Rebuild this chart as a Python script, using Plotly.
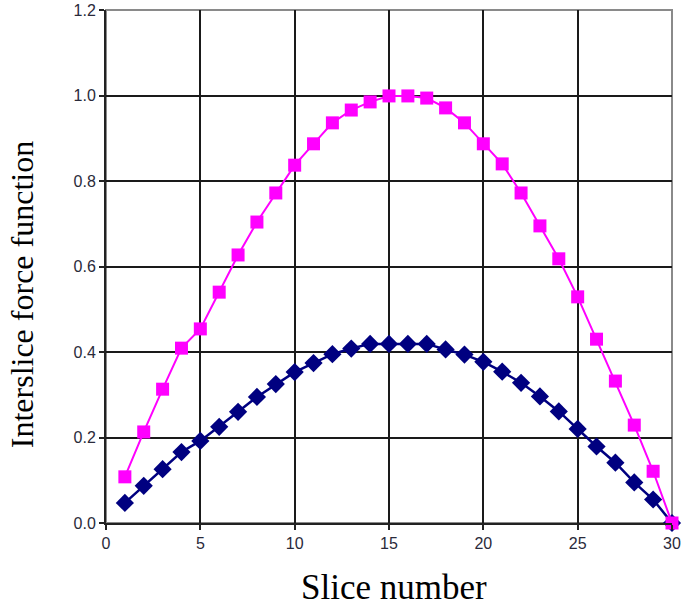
import plotly.graph_objects as go

slices = list(range(1, 31))
pink_values = [0.108, 0.213, 0.313, 0.409, 0.454, 0.540, 0.627, 0.704, 0.772, 0.837,
               0.887, 0.936, 0.966, 0.985, 0.999, 0.999, 0.994, 0.971, 0.936, 0.887,
               0.840, 0.772, 0.695, 0.618, 0.529, 0.430, 0.332, 0.229, 0.121, 0.0]
navy_values = [0.047, 0.087, 0.126, 0.166, 0.192, 0.225, 0.260, 0.295, 0.325, 0.353,
               0.374, 0.395, 0.408, 0.419, 0.419, 0.419, 0.419, 0.406, 0.394, 0.377,
               0.354, 0.328, 0.296, 0.261, 0.220, 0.179, 0.141, 0.095, 0.055, 0.0]
x_ticks = [0, 5, 10, 15, 20, 25, 30]
y_ticks = [0.0, 0.2, 0.4, 0.6, 0.8, 1.0, 1.2]
y_tick_labels = ["0.0", "0.2", "0.4", "0.6", "0.8", "1.0", "1.2"]
x_title = "Slice number"
y_title = "Interslice force function"

fig = go.Figure()
fig.add_trace(go.Scatter(
    x=slices, y=navy_values, mode="lines+markers",
    line=dict(color="#000080", width=2.5),
    marker=dict(symbol="diamond", size=14, color="#000080"),
    showlegend=False, cliponaxis=False,
))
fig.add_trace(go.Scatter(
    x=slices, y=pink_values, mode="lines+markers",
    line=dict(color="#FF00FF", width=2),
    marker=dict(symbol="square", size=13, color="#FF00FF"),
    showlegend=False, cliponaxis=False,
))

# light gray frame (top/right)
fig.add_shape(type="rect", xref="paper", yref="paper", x0=0, y0=0, x1=1, y1=1,
              line=dict(color="#8a8a8a", width=2), layer="below")

serif = "Liberation Serif, Times New Roman, serif"
fig.add_annotation(text=x_title, xref="paper", yref="paper", x=0.5, y=0,
                   xanchor="center", yanchor="middle", xshift=5, yshift=-64,
                   showarrow=False, font=dict(family=serif, size=35, color="#000"))
fig.add_annotation(text=y_title, xref="paper", yref="paper", x=0, y=0.444,
                   xanchor="center", yanchor="middle", xshift=-84, textangle=-90,
                   showarrow=False, font=dict(family=serif, size=32, color="#000"))

fig.update_layout(
    width=685, height=607,
    margin=dict(l=106, r=13, t=10, b=84, autoexpand=False),
    paper_bgcolor="white", plot_bgcolor="white",
    font=dict(family="Liberation Sans, Arial", size=16, color="#2a2a3a"),
)
fig.update_xaxes(
    range=[0, 30], tickvals=x_ticks, ticks="outside", ticklen=5, tickwidth=1.5,
    tickcolor="#222", showline=True, linecolor="#222", linewidth=2,
    showgrid=True, gridcolor="#1a1a1a", gridwidth=1.5, zeroline=False,
    tickfont=dict(size=16), automargin=False,
)
fig.update_yaxes(
    range=[0, 1.2], tickvals=y_ticks, ticktext=y_tick_labels, ticks="outside",
    ticklen=5, tickwidth=1.5, tickcolor="#222", showline=True, linecolor="#222",
    linewidth=2, showgrid=True, gridcolor="#1a1a1a", gridwidth=1.5, zeroline=False,
    tickfont=dict(size=16), automargin=False,
)

fig.write_html("out.html", config={"displayModeBar": False},
               post_script="document.body.style.margin='0';")
